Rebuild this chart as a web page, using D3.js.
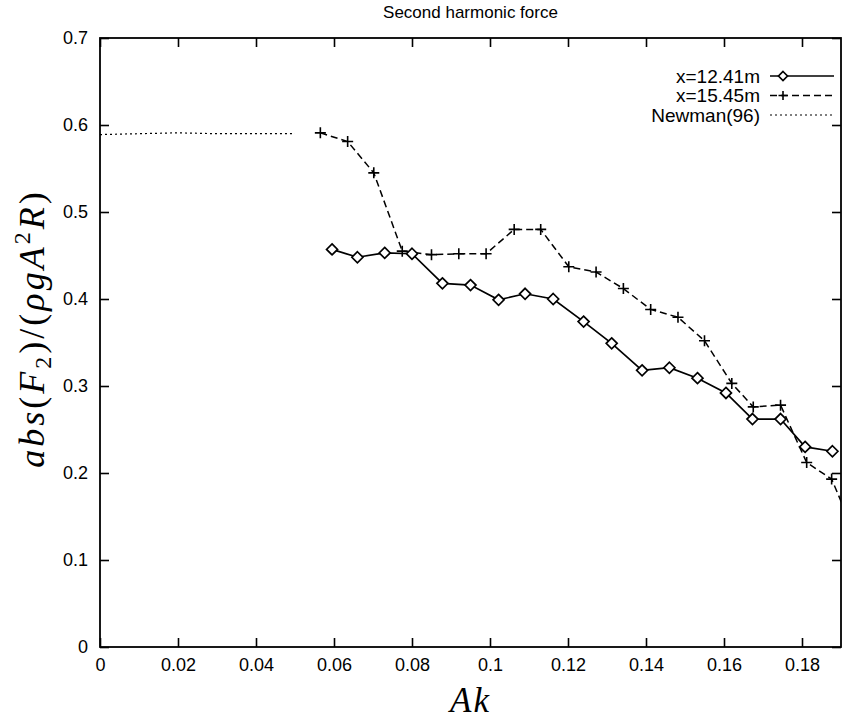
<!DOCTYPE html>
<html>
<head>
<meta charset="utf-8">
<title>Second harmonic force</title>
<style>
  body { margin: 0; background: #fff; }
  .tick text { font-family: "Liberation Sans", Arial, sans-serif; font-size: 18px; fill: #000; }
  .domain { display: none; }
  .tick line { stroke: #000; stroke-width: 1.6; }
</style>
</head>
<body>
<svg id="chart" width="849" height="721"></svg>
<script src="https://d3js.org/d3.v7.min.js"></script>
<script>
// data
var akDiamond = [0.0595, 0.0660, 0.0730, 0.0800, 0.0878, 0.0950, 0.1022, 0.1090, 0.1162, 0.1240, 0.1312, 0.1390, 0.1460, 0.1532, 0.1605, 0.1673, 0.1745, 0.1808, 0.1878];
var fDiamond  = [0.457, 0.448, 0.453, 0.452, 0.418, 0.416, 0.399, 0.406, 0.400, 0.374, 0.349, 0.318, 0.321, 0.309, 0.292, 0.262, 0.262, 0.230, 0.225];

var akPlus = [0.0565, 0.0635, 0.0702, 0.0775, 0.0850, 0.0920, 0.0990, 0.1062, 0.1130, 0.1202, 0.1272, 0.1342, 0.1412, 0.1482, 0.1550, 0.1620, 0.1675, 0.1745, 0.1812, 0.1876, 0.1945];
var fPlus  = [0.591, 0.581, 0.545, 0.455, 0.451, 0.452, 0.452, 0.480, 0.480, 0.437, 0.431, 0.412, 0.388, 0.379, 0.352, 0.303, 0.276, 0.278, 0.212, 0.193, 0.120];

var akNewman = [0, 0.01, 0.02, 0.03, 0.04, 0.05];
var fNewman  = [0.589, 0.590, 0.591, 0.590, 0.590, 0.590];

var xTicks = [0, 0.02, 0.04, 0.06, 0.08, 0.1, 0.12, 0.14, 0.16, 0.18];
var yTicks = [0, 0.1, 0.2, 0.3, 0.4, 0.5, 0.6, 0.7];
var legendLabels = ["x=12.41m", "x=15.45m", "Newman(96)"];

var svg = d3.select('#chart');
var margin = {top: 38, right: 8, bottom: 74, left: 100};
var W = 849 - margin.left - margin.right;
var H = 721 - margin.top - margin.bottom;

var x = d3.scaleLinear().domain([0, 0.19]).range([0, W]);
var y = d3.scaleLinear().domain([0, 0.7]).range([H, 0]);

var g = svg.append('g').attr('transform', 'translate(' + margin.left + ',' + margin.top + ')');

svg.append('defs').append('clipPath').attr('id', 'clip')
  .append('rect').attr('width', W).attr('height', H);

// axes, ticks pointing inward on all four sides
g.append('g').attr('transform', 'translate(0,' + H + ')')
  .call(d3.axisBottom(x).tickValues(xTicks).tickSize(-9).tickPadding(11).tickFormat(d3.format('~g')));
g.append('g').call(d3.axisTop(x).tickValues(xTicks).tickSize(-9).tickFormat(''));
g.append('g')
  .call(d3.axisLeft(y).tickValues(yTicks).tickSize(-9).tickPadding(12).tickFormat(d3.format('~g')));
g.append('g').attr('transform', 'translate(' + W + ',0)')
  .call(d3.axisRight(y).tickValues(yTicks).tickSize(-9).tickFormat(''));

g.append('rect').attr('width', W).attr('height', H)
  .attr('fill', 'none').attr('stroke', '#000').attr('stroke-width', 1.8);

var line = d3.line().x(function(d) { return x(d[0]); }).y(function(d) { return y(d[1]); });
var plot = g.append('g').attr('clip-path', 'url(#clip)');

var dDiamond = d3.zip(akDiamond, fDiamond);
var dPlus = d3.zip(akPlus, fPlus);
var dNewman = d3.zip(akNewman, fNewman);

plot.append('path').datum(dNewman).attr('d', line)
  .attr('fill', 'none').attr('stroke', '#000').attr('stroke-width', 1.2).attr('stroke-dasharray', '2,3');
plot.append('path').datum(dPlus).attr('d', line)
  .attr('fill', 'none').attr('stroke', '#000').attr('stroke-width', 1.5).attr('stroke-dasharray', '7,4');
plot.append('path').datum(dDiamond).attr('d', line)
  .attr('fill', 'none').attr('stroke', '#000').attr('stroke-width', 1.7);

function diamond(sel, s) {
  sel.append('path')
    .attr('d', 'M0,' + (-s) + 'L' + s + ',0L0,' + s + 'L' + (-s) + ',0Z')
    .attr('fill', '#fff').attr('stroke', '#000').attr('stroke-width', 1.7);
}
function plus(sel, s) {
  sel.append('path')
    .attr('d', 'M' + (-s) + ',0H' + s + 'M0,' + (-s) + 'V' + s)
    .attr('stroke', '#000').attr('stroke-width', 1.6);
}

plot.selectAll('.dm').data(dDiamond).enter().append('g').attr('class', 'dm')
  .attr('transform', function(d) { return 'translate(' + x(d[0]) + ',' + y(d[1]) + ')'; })
  .each(function() { diamond(d3.select(this), 5.5); });
plot.selectAll('.pl').data(dPlus).enter().append('g').attr('class', 'pl')
  .attr('transform', function(d) { return 'translate(' + x(d[0]) + ',' + y(d[1]) + ')'; })
  .each(function() { plus(d3.select(this), 5.5); });

// legend
var leg = g.append('g').attr('transform', 'translate(' + (W - 81) + ',38)');
var styles = [{dash: null, w: 1.7}, {dash: '7,4', w: 1.5}, {dash: '2,3', w: 1.2}];
legendLabels.forEach(function(t, i) {
  var row = leg.append('g').attr('transform', 'translate(0,' + (i * 19.5) + ')');
  row.append('text').attr('x', 0).attr('y', 0).attr('dy', '0.35em').attr('text-anchor', 'end')
    .attr('font-family', '"Liberation Sans", Arial, sans-serif').attr('font-size', 19).text(t);
  row.append('line').attr('x1', 10).attr('x2', 74).attr('y1', 0).attr('y2', 0)
    .attr('stroke', '#000').attr('stroke-width', styles[i].w).attr('stroke-dasharray', styles[i].dash);
  var m = row.append('g').attr('transform', 'translate(23,0)');
  if (i === 0) diamond(m, 4.5);
  if (i === 1) plus(m, 4.5);
});

// title
svg.append('text').attr('x', margin.left + W / 2).attr('y', 18).attr('text-anchor', 'middle')
  .attr('font-family', '"Liberation Sans", Arial, sans-serif').attr('font-size', 17).text('Second harmonic force');

// x label
svg.append('text').attr('x', margin.left + W / 2).attr('y', 712).attr('text-anchor', 'middle')
  .attr('font-family', '"Liberation Serif", "DejaVu Serif", serif').attr('font-style', 'italic').attr('font-size', 35)
  .attr('letter-spacing', 2).text('Ak');

// y label with math formatting
var yl = svg.append('text')
  .attr('transform', 'translate(44,' + (margin.top + H / 2 - 14) + ') rotate(-90)')
  .attr('text-anchor', 'middle').attr('letter-spacing', 3)
  .attr('font-family', '"Liberation Serif", "DejaVu Serif", serif').attr('font-size', 36);
yl.append('tspan').attr('font-style', 'italic').text('abs');
yl.append('tspan').text('(');
yl.append('tspan').attr('font-style', 'italic').text('F');
yl.append('tspan').attr('font-size', 24).attr('dy', 7).text('2');
yl.append('tspan').attr('dy', -7).text(')/(');
yl.append('tspan').attr('font-style', 'italic').text('ρgA');
yl.append('tspan').attr('font-size', 24).attr('dy', -14).text('2');
yl.append('tspan').attr('font-style', 'italic').attr('dy', 14).text('R');
yl.append('tspan').text(')');
</script>
</body>
</html>
